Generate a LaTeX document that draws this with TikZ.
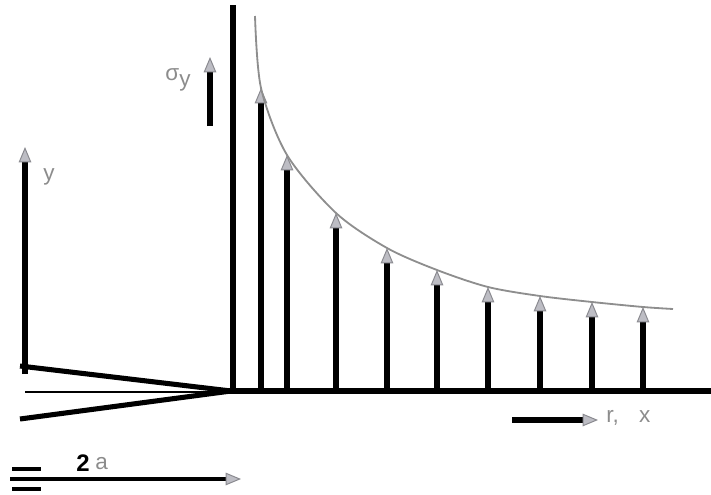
\documentclass[tikz,border=0pt]{standalone}
\usepackage{fontspec}
\setmainfont{Liberation Sans}
\usepackage{tikz}
\usetikzlibrary{arrows.meta}
\definecolor{tipfill}{HTML}{BDBDC4}
\definecolor{tipdraw}{HTML}{8A8A90}
\definecolor{labgray}{HTML}{8C8C8C}
\definecolor{curvegray}{HTML}{8E8E8E}
\tikzset{
  thickline/.style={line width=3.6pt},
  loadbar/.style={line width=3.6pt, -{Triangle[length=11pt, width=9pt, fill=tipfill, color=tipdraw, line width=0.7pt]}},
  lab/.style={text=labgray, font=\fontsize{16}{18}\selectfont, inner sep=0pt}
}

\begin{document}
\begin{tikzpicture}[x=0.025cm, y=-0.025cm]
  \useasboundingbox (0,0) rectangle (711,494);
  % crack tip and the two faces
  \coordinate (tip) at (231,391);
  \coordinate (upface) at (20,366);
  \coordinate (loface) at (20,419);
  \draw[thickline] (upface) -- (tip);
  \draw[thickline] (loface) -- (tip);
  \draw[line width=1.3pt] (25,392) -- (214,392);
  % ligament and the wall
  \draw[thickline] (214,391) -- (711,391);
  \draw[thickline] (233,5) -- (233,392);

  % y axis
  \draw[loadbar] (25,374) -- (25,147);
  \node[lab] (ylab) at (49,177) {y};

  % sigma_y direction
  \draw[loadbar] (210,126) -- (210,57);
  \node[lab] (sylab) at (178,80) {σ\raisebox{-0.5ex}{y}};

  % stress bars up to the curve
  \foreach \bx/\by in {261/88, 287/155, 336/213, 387/248, 437/270, 488/287, 540/296, 592/302, 643/307}{
    \draw[loadbar] (\bx,390) -- (\bx,\by);
  }
  % 1/sqrt(r) envelope
  \draw[curvegray, line width=1.3pt] plot[smooth, tension=0.5] coordinates {
    (255,16) (261,88) (287,155) (336,213) (387,248) (437,270)
    (488,287) (540,296) (592,302) (643,307) (673,309)};

  % r, x direction
  \draw[loadbar] (512,420) -- (598,420);
  \node[lab, anchor=west] (rxlab) at (606,418) {r,\hspace{0.9em}x};

  % crack length 2a
  \draw[line width=3pt] (12,469) -- (41,469);
  \draw[line width=3pt] (12,489) -- (41,489);
  \draw[loadbar, line width=3.2pt] (10,479) -- (241,479);
  \node[font=\fontsize{17}{19}\selectfont\bfseries, inner sep=0pt] (two) at (83,463) {2};
  \node[lab, anchor=west] (alab) at (95,464) {a};
\end{tikzpicture}
\end{document}
